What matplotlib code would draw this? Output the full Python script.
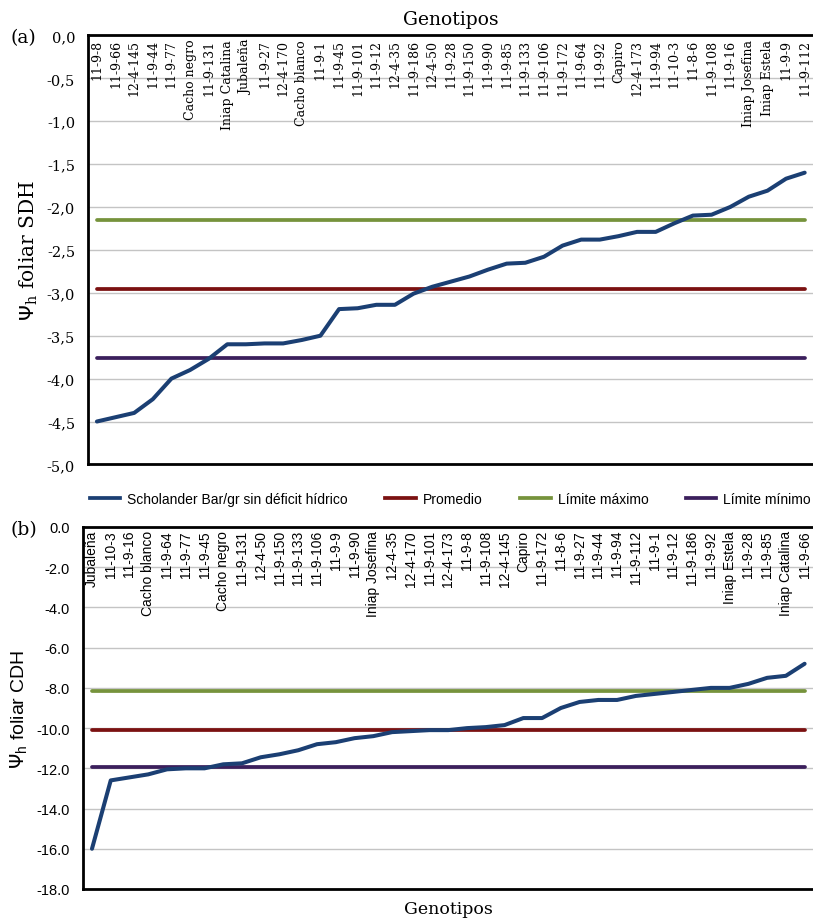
import matplotlib
matplotlib.use('Agg')
import matplotlib.pyplot as plt
import numpy as np
from matplotlib.transforms import blended_transform_factory
from matplotlib.lines import Line2D

# ---------------- data ----------------
genotipos_sdh = ['11-9-8', '11-9-66', '12-4-145', '11-9-44', '11-9-77', 'Cacho negro',
                 '11-9-131', 'Iniap Catalina', 'Jubaleña', '11-9-27', '12-4-170',
                 'Cacho blanco', '11-9-1', '11-9-45', '11-9-101', '11-9-12', '12-4-35',
                 '11-9-186', '12-4-50', '11-9-28', '11-9-150', '11-9-90', '11-9-85',
                 '11-9-133', '11-9-106', '11-9-172', '11-9-64', '11-9-92', 'Capiro',
                 '12-4-173', '11-9-94', '11-10-3', '11-8-6', '11-9-108', '11-9-16',
                 'Iniap Josefina', 'Iniap Estela', '11-9-9', '11-9-112']
psi_sdh = [-4.50, -4.45, -4.40, -4.24, -4.00, -3.90, -3.77, -3.60, -3.60, -3.59,
           -3.59, -3.55, -3.50, -3.19, -3.18, -3.14, -3.14, -3.01, -2.93, -2.87,
           -2.81, -2.73, -2.66, -2.65, -2.58, -2.45, -2.38, -2.38, -2.34, -2.29,
           -2.29, -2.19, -2.10, -2.09, -2.00, -1.88, -1.81, -1.67, -1.60]
promedio_sdh = -2.95
maximo_sdh = -2.15
minimo_sdh = -3.76

genotipos_cdh = ['Jubaleña', '11-10-3', '11-9-16', 'Cacho blanco', '11-9-64', '11-9-77',
                 '11-9-45', 'Cacho negro', '11-9-131', '12-4-50', '11-9-150', '11-9-133',
                 '11-9-106', '11-9-9', '11-9-90', 'Iniap Josefina', '12-4-35', '12-4-170',
                 '11-9-101', '12-4-173', '11-9-8', '11-9-108', '12-4-145', 'Capiro',
                 '11-9-172', '11-8-6', '11-9-27', '11-9-44', '11-9-94', '11-9-112',
                 '11-9-1', '11-9-12', '11-9-186', '11-9-92', 'Iniap Estela', '11-9-28',
                 '11-9-85', 'Iniap Catalina', '11-9-66']
psi_cdh = [-16.0, -12.6, -12.45, -12.3, -12.05, -12.0, -12.0, -11.8, -11.75, -11.45,
           -11.3, -11.1, -10.8, -10.7, -10.5, -10.4, -10.2, -10.15, -10.1, -10.1,
           -10.0, -9.95, -9.85, -9.5, -9.5, -9.0, -8.7, -8.6, -8.6, -8.4,
           -8.3, -8.2, -8.1, -8.0, -8.0, -7.8, -7.5, -7.4, -6.8]
promedio_cdh = -10.1
maximo_cdh = -8.15
minimo_cdh = -11.95

yticks_sdh = [0.0, -0.5, -1.0, -1.5, -2.0, -2.5, -3.0, -3.5, -4.0, -4.5, -5.0]
yticks_cdh = [0.0, -2.0, -4.0, -6.0, -8.0, -10.0, -12.0, -14.0, -16.0, -18.0]

serie_nombres = ['Scholander Bar/gr sin déficit hídrico', 'Promedio',
                 'Límite máximo', 'Límite mínimo']

# ---------------- style ----------------
C_BLUE = '#1b3f73'
C_RED = '#7b1111'
C_GREEN = '#76933c'
C_PURPLE = '#3b1f5c'
C_GRID = '#c4c4c4'
SERIF = ['DejaVu Serif']
SANS = ['Liberation Sans', 'DejaVu Sans']
LW = 2.7

W, H = 813, 920
fig = plt.figure(figsize=(W / 100, H / 100), dpi=100)


def px_axes(left, top, right, bottom):
    return [left / W, 1 - bottom / H, (right - left) / W, (bottom - top) / H]


def draw_panel(ax, cats, vals, prom, vmax, vmin, yticks, ymin, fmt, fam, lab_size, tick_size):
    n = len(cats)
    x = np.arange(n)
    ax.set_xlim(-0.5, n - 0.5)
    ax.set_ylim(ymin, 0)
    ax.set_yticks(yticks)
    ax.set_yticklabels([fmt(v) for v in yticks], family=fam, fontsize=tick_size)
    ax.set_xticks([])
    ax.tick_params(axis='y', length=0, pad=9)
    ax.grid(axis='y', color=C_GRID, linewidth=1.0)
    ax.set_axisbelow(True)
    for s in ax.spines.values():
        s.set_linewidth(2.0)
        s.set_color('black')
    ax.spines['right'].set_visible(False)
    ax.plot(x, [vmax] * n, color=C_GREEN, lw=LW, solid_capstyle='round', zorder=3)
    ax.plot(x, [prom] * n, color=C_RED, lw=LW, solid_capstyle='round', zorder=3)
    ax.plot(x, [vmin] * n, color=C_PURPLE, lw=LW, solid_capstyle='round', zorder=3)
    ax.plot(x, vals, color=C_BLUE, lw=LW + 0.2, solid_capstyle='round',
            solid_joinstyle='round', zorder=4)
    tr = blended_transform_factory(ax.transData, ax.transAxes)
    for i, c in enumerate(cats):
        ax.text(i, 0.992, c, rotation=90, ha='center', va='top', transform=tr,
                family=fam, fontsize=lab_size, zorder=2)


ax1 = fig.add_axes(px_axes(87.6, 36.4, 814.0, 465.4))
draw_panel(ax1, genotipos_sdh, psi_sdh, promedio_sdh, maximo_sdh, minimo_sdh,
           yticks_sdh, -5.0, lambda v: f'{v:.1f}'.replace('.', ','), SERIF, 9, 10.5)
ax1.set_title('Genotipos', family=SERIF, fontsize=13.5, pad=8)
ax1.set_ylabel(r'$\Psi_\mathregular{h}$ foliar SDH', family=SERIF, fontsize=14.5, labelpad=5)

ax2 = fig.add_axes(px_axes(82.6, 528.0, 814.0, 890.0))
draw_panel(ax2, genotipos_cdh, psi_cdh, promedio_cdh, maximo_cdh, minimo_cdh,
           yticks_cdh, -18.0, lambda v: f'{v:.1f}', SANS, 10, 10.5)
ax2.set_xlabel('Genotipos', family=SERIF, fontsize=12.5, labelpad=8)
ax2.set_ylabel(r'$\Psi_\mathregular{h}$ foliar CDH', family=SANS, fontsize=14, labelpad=5)

fig.text(10 / W, 1 - 38 / H, '(a)', family=SERIF, fontsize=13.5, va='center', ha='left')
fig.text(10 / W, 1 - 530 / H, '(b)', family=SERIF, fontsize=13.5, va='center', ha='left')

handles = [Line2D([], [], color=C_BLUE, lw=LW), Line2D([], [], color=C_RED, lw=LW),
           Line2D([], [], color=C_GREEN, lw=LW), Line2D([], [], color=C_PURPLE, lw=LW)]
fig.legend(handles, serie_nombres, loc='center left', bbox_to_anchor=(80 / W, 1 - 500 / H),
           ncol=4, frameon=False, prop={'family': SANS, 'size': 10},
           handlelength=2.2, handletextpad=0.5, columnspacing=2.7, borderpad=0.2)

fig.savefig('out.png', dpi=100)
